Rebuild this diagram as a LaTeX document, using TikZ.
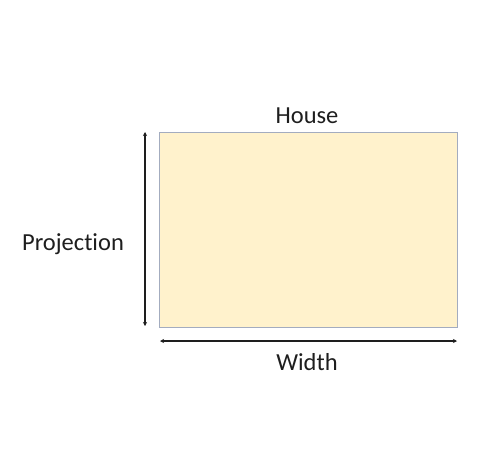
\documentclass[tikz,border=0pt]{standalone}
\usepackage{fontspec}
\setmainfont[RawFeature={-liga;-clig;-calt}]{Carlito}
\usetikzlibrary{arrows.meta, positioning}
\definecolor{housefill}{HTML}{FFF2CC}
\definecolor{houseline}{HTML}{A3ACBF}
\definecolor{dimline}{HTML}{1E1E1E}
\tikzset{
  dimarrow/.style={draw=dimline, line width=1.1pt, {Stealth[length=4pt,width=4pt]}-{Stealth[length=4pt,width=4pt]}},
  dimlabel/.style={text=dimline, font=\fontsize{24.5}{28}\selectfont, inner sep=0pt}
}
\begin{document}
\begin{tikzpicture}[x=1pt,y=-1pt]
        \useasboundingbox (0,0) rectangle (500,474);
        % House outline
        \node[draw=houseline, fill=housefill, line width=1pt, minimum width=298pt, minimum height=195pt, inner sep=0pt] (house) at (308,229.5) {};
        % Labels
        \node[dimlabel, anchor=south] (title) at (307,124) {House};
        \node[dimlabel] (proj) at (73,244) {Projection};
        \node[dimlabel] (width) at (307,362) {Width};
        % Dimension arrows
        \coordinate (ptop) at (145,132);
        \coordinate (pbot) at (145,326);
        \coordinate (wleft) at (160,341);
        \coordinate (wright) at (457,341);
        \draw[dimarrow] (ptop) -- (pbot);
        \draw[dimarrow] (wleft) -- (wright);
    \end{tikzpicture}
\end{document}
